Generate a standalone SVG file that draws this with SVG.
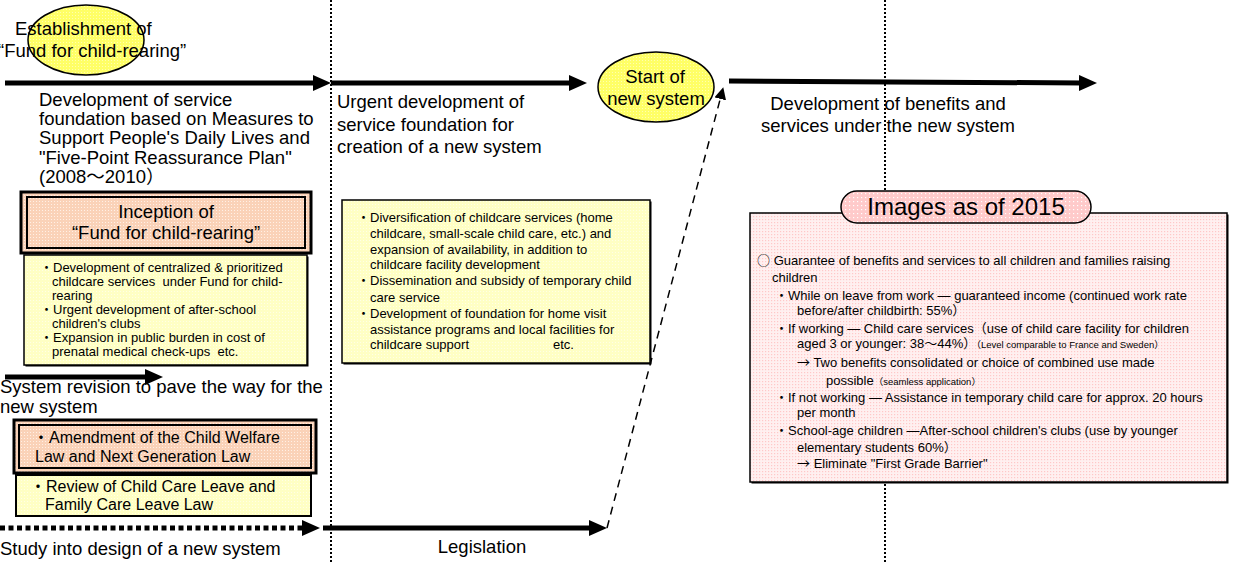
<svg xmlns="http://www.w3.org/2000/svg" width="1248" height="563" viewBox="0 0 1248 563">
<defs>
<style>
text{font-family:"Liberation Sans","Noto Sans CJK JP",Arial,sans-serif;fill:#000}
.cj{font-family:"Noto Sans CJK JP",sans-serif}
.big{font-size:18.5px}
.med{font-size:16px}
.sm{font-size:13px}
.xs{font-size:9.5px}
.title{font-size:24px}
.mid{text-anchor:middle}
.vdot{stroke:#000;stroke-width:2;stroke-dasharray:2 2;fill:none}
.thick{stroke:#000;stroke-width:5;fill:none}
.dash{stroke:#000;stroke-width:1.5;stroke-dasharray:8 6;fill:none}
.box{stroke:#000;stroke-width:1.5}
</style>
<pattern id="pY" width="3" height="3" patternUnits="userSpaceOnUse">
<rect width="3" height="3" fill="#FFFF66"/><rect width="1" height="1" fill="#FFFFB0"/>
</pattern>
<pattern id="pPeach" width="3" height="3" patternUnits="userSpaceOnUse">
<rect width="3" height="3" fill="#FAD2B8"/><rect width="1" height="1" fill="#FFF0E6"/>
</pattern>
<pattern id="pLY" width="3" height="3" patternUnits="userSpaceOnUse">
<rect width="3" height="3" fill="#FFFFC4"/><rect width="1" height="1" fill="#FFFFE6"/>
</pattern>
<pattern id="pPinkTab" width="4" height="4" patternUnits="userSpaceOnUse">
<rect width="4" height="4" fill="#FFCACA"/><rect x="1" y="1" width="1.2" height="1.2" fill="#FFFFFF"/>
</pattern>
<pattern id="pPink" width="3" height="3" patternUnits="userSpaceOnUse">
<rect width="3" height="3" fill="#FFF0F0"/><rect width="1.2" height="1.2" fill="#FFC8C8"/>
</pattern>
<marker id="ah" markerUnits="userSpaceOnUse" markerWidth="18" markerHeight="16" viewBox="0 0 18 16" refX="4" refY="8" orient="auto">
<path d="M0,0 L18,8 L0,16 z" fill="#000"/>
</marker>
<marker id="ahs" markerUnits="userSpaceOnUse" markerWidth="12" markerHeight="12" viewBox="0 0 12 12" refX="3" refY="6" orient="auto">
<path d="M0,0 L12,6 L0,12 z" fill="#000"/>
</marker>
</defs>
<rect width="1248" height="563" fill="#fff"/>

<g id="guides">
<line class="vdot" x1="331" y1="0" x2="331" y2="563"/>
<line class="vdot" x1="885" y1="0" x2="885" y2="563"/>
</g>

<g id="connectors">
<line class="thick" x1="5" y1="83" x2="317" y2="83" marker-end="url(#ah)"/>
<line class="thick" x1="331" y1="83" x2="573" y2="83" marker-end="url(#ah)"/>
<line class="thick" x1="729" y1="81" x2="1083" y2="83" marker-end="url(#ah)"/>
<line class="thick" x1="5" y1="377" x2="149" y2="377" marker-end="url(#ah)"/>
<line class="thick" x1="0" y1="528" x2="306" y2="528" stroke-dasharray="5 3.5" marker-end="url(#ah)"/>
<line class="thick" x1="323" y1="528" x2="593" y2="528" marker-end="url(#ah)"/>
<line class="dash" x1="607" y1="528" x2="721" y2="96" marker-end="url(#ahs)"/>
</g>

<g id="n-establish">
<ellipse cx="86" cy="40" rx="58" ry="35" fill="url(#pY)" class="box"/>
<text class="big" x="15" y="35">Establishment of</text>
<text class="big" x="-2" y="57">“Fund for child-rearing”</text>
</g>

<g id="n-dev-service">
<text class="big" x="39" y="106">Development of service</text>
<text class="big" x="39" y="125">foundation based on Measures to</text>
<text class="big" x="39" y="144">Support People's Daily Lives and</text>
<text class="big" x="39" y="164">"Five-Point Reassurance Plan"</text>
<text class="big" x="39" y="183">(2008～2010）</text>
</g>

<g id="n-inception">
<rect x="21" y="192" width="290" height="61" fill="url(#pPeach)" stroke="#000" stroke-width="3"/>
<rect x="27" y="197" width="278" height="51" fill="url(#pPeach)" stroke="#000" stroke-width="2"/>
<text class="big mid" x="166" y="218">Inception of</text>
<text class="big mid" x="166" y="239">“Fund for child-rearing”</text>
</g>

<g id="n-fund-items">
<rect x="25.5" y="256.5" width="283" height="110" fill="#000"/>
<rect x="24" y="255" width="283" height="110" fill="url(#pLY)" class="box"/>
<text class="sm" x="40" y="272">・Development of centralized &amp; prioritized</text>
<text class="sm" x="52" y="286" xml:space="preserve">childcare services  under Fund for child-</text>
<text class="sm" x="52" y="300">rearing</text>
<text class="sm" x="40" y="314">・Urgent development of after-school</text>
<text class="sm" x="52" y="328">children's clubs</text>
<text class="sm" x="40" y="342">・Expansion in public burden in cost of</text>
<text class="sm" x="52" y="356" xml:space="preserve">prenatal medical check-ups  etc.</text>
</g>

<g id="n-revision">
<text class="big" x="0" y="393">System revision to pave the way for the</text>
<text class="big" x="0" y="413">new system</text>
</g>

<g id="n-amendment">
<rect x="14" y="420" width="302" height="53" fill="url(#pPeach)" stroke="#000" stroke-width="3"/>
<rect x="19" y="425" width="292" height="43" fill="url(#pPeach)" stroke="#000" stroke-width="2"/>
<text class="med" x="33" y="443">・Amendment of the Child Welfare</text>
<text class="med" x="35" y="462">Law and Next Generation Law</text>
</g>

<g id="n-review">
<rect x="16" y="475" width="295" height="41" fill="url(#pLY)" stroke="#000" stroke-width="2"/>
<text class="med" x="30" y="492">・Review of Child Care Leave and</text>
<text class="med" x="45" y="510">Family Care Leave Law</text>
</g>

<g id="n-study">
<text class="big" x="0" y="555">Study into design of a new system</text>
</g>

<g id="n-urgent">
<text class="big" x="337" y="108">Urgent development of</text>
<text class="big" x="337" y="131">service foundation for</text>
<text class="big" x="337" y="153">creation of a new system</text>
</g>

<g id="n-mid-items">
<rect x="343.5" y="201.5" width="308" height="163" fill="#000"/>
<rect x="342" y="200" width="308" height="163" fill="url(#pLY)" class="box"/>
<text class="sm" x="357" y="222">・Diversification of childcare services (home</text>
<text class="sm" x="370" y="238">childcare, small-scale child care, etc.) and</text>
<text class="sm" x="370" y="254">expansion of availability, in addition to</text>
<text class="sm" x="370" y="269">childcare facility development</text>
<text class="sm" x="357" y="285">・Dissemination and subsidy of temporary child</text>
<text class="sm" x="370" y="302">care service</text>
<text class="sm" x="357" y="318">・Development of foundation for home visit</text>
<text class="sm" x="370" y="334">assistance programs and local facilities for</text>
<text class="sm" x="370" y="349">childcare support</text>
<text class="sm" x="553" y="349">etc.</text>
</g>

<g id="n-start">
<ellipse cx="656" cy="87" rx="58" ry="35" fill="url(#pY)" class="box"/>
<text class="big mid" x="655" y="83">Start of</text>
<text class="big mid" x="656" y="105">new system</text>
</g>

<g id="n-legislation">
<text class="big mid" x="482" y="553">Legislation</text>
</g>

<g id="n-benefits">
<text class="big mid" x="888" y="110">Development of benefits and</text>
<text class="big mid" x="888" y="132">services under the new system</text>
</g>

<g id="n-images">
<rect x="751.5" y="214.5" width="477" height="269" fill="#000"/>
<rect x="750" y="213" width="477" height="269" fill="url(#pPink)" class="box"/>
<rect x="841" y="191" width="250" height="32" rx="16" fill="url(#pPinkTab)" class="box"/>
<text class="title mid" x="966" y="215">Images as of 2015</text>
<text class="sm" x="757" y="265"><tspan class="cj">○</tspan> Guarantee of benefits and services to all children and families raising</text>
<text class="sm" x="772" y="282">children</text>
<text class="sm" x="775" y="300">・While on leave from work — guaranteed income (continued work rate</text>
<text class="sm" x="797" y="315">before/after childbirth: 55%）</text>
<text class="sm" x="775" y="333">・If working — Child care services（use of child care facility for children</text>
<text class="sm" x="797" y="348">aged 3 or younger: 38～44%）<tspan class="xs">（Level comparable to France and Sweden）</tspan></text>
<text class="sm" x="797" y="367"><tspan class="cj">→</tspan> Two benefits consolidated or choice of combined use made</text>
<text class="sm" x="826" y="385">possible<tspan class="xs">（seamless application）</tspan></text>
<text class="sm" x="775" y="402">・If not working — Assistance in temporary child care for approx. 20 hours</text>
<text class="sm" x="797" y="417">per month</text>
<text class="sm" x="775" y="435">・School-age children —After-school children's clubs (use by younger</text>
<text class="sm" x="797" y="452">elementary students 60%）</text>
<text class="sm" x="797" y="468"><tspan class="cj">→</tspan> Eliminate "First Grade Barrier"</text>
</g>
</svg>
